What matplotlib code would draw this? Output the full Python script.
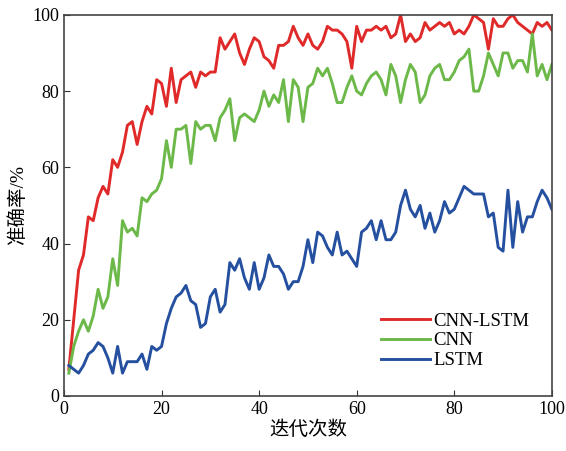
import numpy as np
from matplotlib import pyplot as plt

# Accuracy (%) per iteration for each model
iterations = np.arange(1, 101)

cnn_lstm = [
    7, 20, 33, 37, 47, 46, 52, 55, 53, 62,
    60, 64, 71, 72, 66, 72, 76, 74, 83, 82,
    76, 86, 77, 83, 84, 85, 81, 85, 84, 85,
    85, 94, 91, 93, 95, 90, 87, 91, 94, 93,
    89, 88, 86, 92, 92, 93, 97, 94, 92, 95,
    92, 91, 93, 97, 96, 96, 95, 93, 86, 97,
    93, 96, 96, 97, 96, 97, 94, 95, 100, 93,
    95, 93, 94, 98, 96, 97, 98, 97, 98, 95,
    96, 95, 97, 100, 99, 98, 91, 99, 97, 97,
    99, 100, 98, 97, 96, 95, 98, 97, 98, 96,
]

cnn = [
    6, 13, 17, 20, 17, 21, 28, 23, 26, 36,
    29, 46, 43, 44, 42, 52, 51, 53, 54, 57,
    67, 60, 70, 70, 71, 61, 72, 70, 71, 71,
    67, 73, 75, 78, 67, 73, 74, 73, 72, 75,
    80, 76, 79, 77, 83, 72, 83, 81, 72, 81,
    82, 86, 84, 86, 82, 77, 77, 81, 84, 80,
    79, 82, 84, 85, 83, 79, 87, 84, 77, 83,
    87, 85, 77, 79, 84, 86, 87, 83, 83, 85,
    88, 89, 91, 80, 80, 84, 90, 87, 84, 90,
    90, 86, 88, 88, 85, 95, 84, 87, 83, 87,
]

lstm = [
    8, 7, 6, 8, 11, 12, 14, 13, 10, 6,
    13, 6, 9, 9, 9, 11, 7, 13, 12, 13,
    19, 23, 26, 27, 29, 25, 24, 18, 19, 26,
    28, 22, 24, 35, 33, 36, 31, 28, 35, 28,
    31, 37, 34, 34, 32, 28, 30, 30, 34, 41,
    35, 43, 42, 39, 37, 43, 37, 38, 36, 34,
    43, 44, 46, 41, 46, 41, 41, 43, 50, 54,
    49, 47, 50, 44, 48, 43, 46, 51, 48, 49,
    52, 55, 54, 53, 53, 53, 47, 48, 39, 38,
    54, 39, 51, 43, 47, 47, 51, 54, 52, 49,
]

plt.rcParams['font.family'] = ['Liberation Serif', 'Noto Sans CJK SC']
plt.rcParams['axes.unicode_minus'] = False

fig = plt.figure(figsize=(5.66, 4.51), dpi=100)
ax = fig.add_axes([0.113, 0.122, 0.862, 0.845])

ax.plot(iterations, cnn_lstm, color='#e02a2a', lw=2.1, label='CNN-LSTM')
ax.plot(iterations, cnn, color='#6cb94a', lw=2.1, label='CNN')
ax.plot(iterations, lstm, color='#2550a0', lw=2.1, label='LSTM')

ax.set_xlim(0, 100)
ax.set_ylim(0, 100)
ax.set_xticks([0, 20, 40, 60, 80, 100])
ax.set_yticks([0, 20, 40, 60, 80, 100])
ax.tick_params(direction='in', labelsize=13, length=4, color='#333333')
for spine in ax.spines.values():
    spine.set_color('#444444')
    spine.set_linewidth(1.2)

ax.set_xlabel('迭代次数', fontsize=14, labelpad=2)
ax.set_ylabel('准确率/%', fontsize=14, labelpad=4)

ax.legend(loc='lower right', bbox_to_anchor=(0.97, 0.05), frameon=False,
          fontsize=13.5, handlelength=2.6, handletextpad=0.2,
          labelspacing=0.15, borderaxespad=0)

fig.savefig('out.png', dpi=100)
